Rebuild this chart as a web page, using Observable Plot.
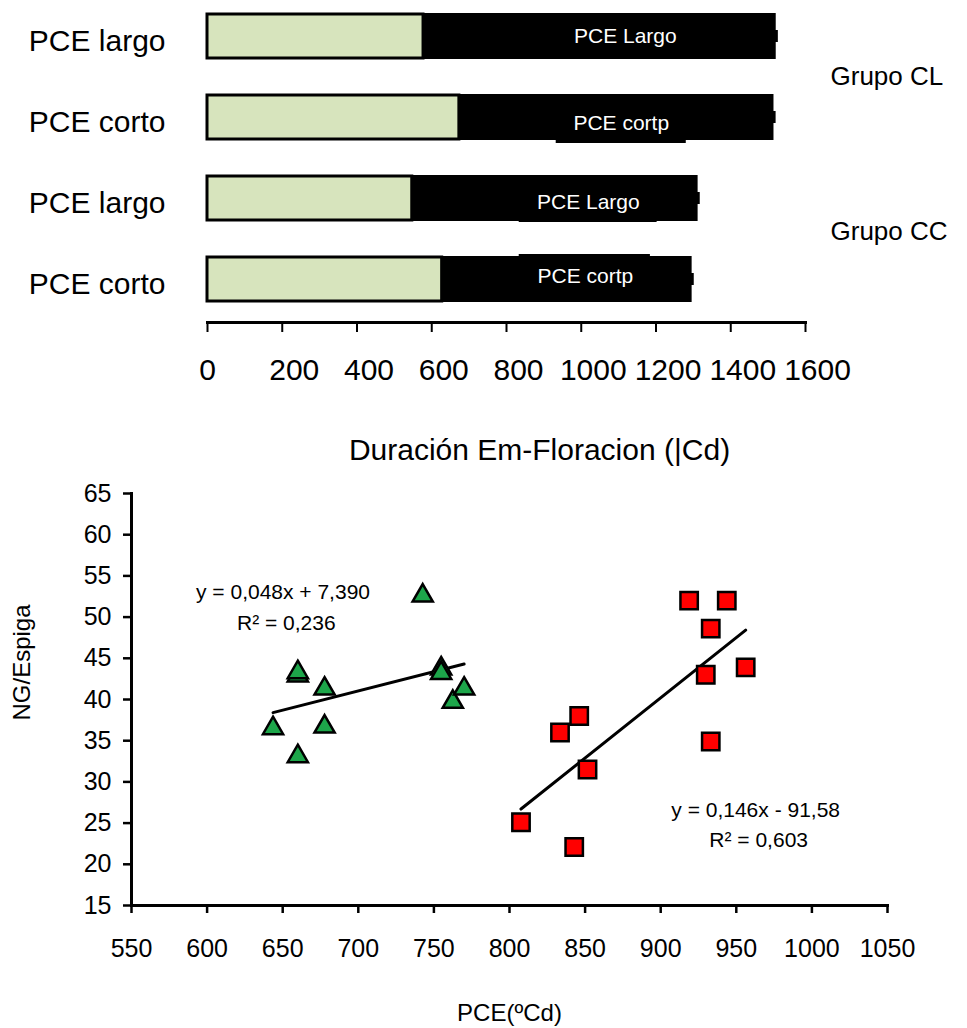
<!DOCTYPE html>
<html><head><meta charset="utf-8">
<script src="https://cdn.jsdelivr.net/npm/d3@7"></script>
<script src="https://cdn.jsdelivr.net/npm/@observablehq/plot@0.6"></script>
<style>
body{margin:0;background:#fff;font-family:"Liberation Sans",Arial,sans-serif;}
#wrap{position:relative;width:967px;height:1028px;overflow:hidden;}
#topChart{position:absolute;left:0;top:0;}
#bottomChart{position:absolute;left:0;top:480px;}
</style></head><body><div id="wrap"><div id="topChart"></div><div id="bottomChart"></div></div>
<script>
// ---- Top chart data ----
const barKeys = ["CL-largo", "CL-corto", "CC-largo", "CC-corto"];
const barLabels = ["PCE largo", "PCE corto", "PCE largo", "PCE corto"];
const greenEnd = [578, 674, 548, 628];
const totalEnd = [1519, 1513, 1310, 1294];
const greenErrEnd = [580, 676, null, null];
const totalErrEnd = [1522, 1516, 1313, 1297];
const segLabels = ["PCE Largo", "PCE cortp", "PCE Largo", "PCE cortp"];
const segLabelX = [1118, 1107, 1019, 1011];
const boxX1 = [null, 933, 834, 834];
const boxX2 = [null, 1281, 1203, 1185];
const groupLabels = ["Grupo CL", "Grupo CC"];
const groupKeys = ["CL-largo", "CC-largo"];
const durTicks = [0, 200, 400, 600, 800, 1000, 1200, 1400, 1600];
const durTitle = "Duración Em-Floracion (|Cd)";

// ---- Bottom chart data ----
const greenX = [643.6, 660, 660, 660, 677.7, 677.7, 742.6, 754.8, 754.8, 762.5, 770];
const greenY = [36.5, 33.1, 42.9, 43.3, 41.3, 36.7, 52.6, 43.75, 43.2, 39.7, 41.3];
const redX = [918.8, 943.7, 933.1, 929.8, 956.2, 933.1, 846.1, 833.4, 851.6, 807.6, 842.8];
const redY = [52.0, 52.0, 48.6, 43.0, 43.9, 34.9, 38.0, 36.0, 31.5, 25.1, 22.1];
const pceTicks = [550, 600, 650, 700, 750, 800, 850, 900, 950, 1000, 1050];
const ngTicks = [15, 20, 25, 30, 35, 40, 45, 50, 55, 60, 65];
const eqGreen = ["y = 0,048x + 7,390", "R² = 0,236"];
const eqRed = ["y = 0,146x - 91,58", "R² = 0,603"];
const pceTitle = "PCE(ºCd)";
const ngTitle = "NG/Espiga";

const bars = barKeys.map((k, i) => ({
  key: k, label: barLabels[i], green: greenEnd[i], total: totalEnd[i],
  gErr: greenErrEnd[i], tErr: totalErrEnd[i], seg: segLabels[i], segX: segLabelX[i],
  bx1: boxX1[i], bx2: boxX2[i]
}));
const font = "Liberation Sans, Arial, sans-serif";
const num = d => String(d);

const topPlot = Plot.plot({
  width: 967, height: 480,
  marginLeft: 207, marginRight: 162, marginTop: 0, marginBottom: 158,
  style: {fontFamily: font, fontSize: "30px", background: "white", color: "black"},
  x: {domain: [0, 1600]},
  y: {type: "band", domain: barKeys, range: [13, 302], paddingInner: 0.46, paddingOuter: 0},
  marks: [
    Plot.barX(bars, {y: "key", x1: 0, x2: "green", fill: "#D7E4BD", stroke: "black", strokeWidth: 3}),
    Plot.barX(bars, {y: "key", x1: "green", x2: "total", fill: "black", stroke: "black", strokeWidth: 2}),
    Plot.barX(bars.filter(d => d.key === "CL-corto"), {y: "key", x1: "bx1", x2: "bx2", fill: "black", insetTop: 10, insetBottom: -4}),
    Plot.barX(bars.filter(d => d.key === "CC-largo"), {y: "key", x1: "bx1", x2: "bx2", fill: "black", insetTop: 10, insetBottom: -2}),
    Plot.barX(bars.filter(d => d.key === "CC-corto"), {y: "key", x1: "bx1", x2: "bx2", fill: "black", insetTop: -3, insetBottom: 10}),
    Plot.tickX(bars.filter(d => d.gErr != null), {y: "key", x: "gErr", stroke: "black", strokeWidth: 3, insetTop: 16, insetBottom: 16}),
    Plot.tickX(bars, {y: "key", x: "tErr", stroke: "black", strokeWidth: 3, insetTop: 16, insetBottom: 16}),
    Plot.text(bars.filter((d, i) => i === 0), {y: "key", x: "segX", text: "seg", fill: "white", fontSize: 21, dy: 0}),
    Plot.text(bars.filter((d, i) => i === 1), {y: "key", x: "segX", text: "seg", fill: "white", fontSize: 21, dy: 6}),
    Plot.text(bars.filter((d, i) => i === 2), {y: "key", x: "segX", text: "seg", fill: "white", fontSize: 21, dy: 4}),
    Plot.text(bars.filter((d, i) => i === 3), {y: "key", x: "segX", text: "seg", fill: "white", fontSize: 21, dy: -3}),
    Plot.axisY({tickSize: 0, tickPadding: 42, tickFormat: k => barLabels[barKeys.indexOf(k)], fontSize: 30, dy: 5, label: null}),
    Plot.frame({anchor: "bottom", strokeWidth: 3}),
    Plot.axisX({ticks: durTicks, tickSize: 10, strokeWidth: 2, tickFormat: () => "", label: null}),
    Plot.text(durTicks.slice(0, 1), {x: d => d, text: num, frameAnchor: "bottom", dy: 48, lineAnchor: "middle", fontSize: 30}),
    Plot.text(durTicks.slice(1), {x: d => d, text: num, frameAnchor: "bottom", dy: 48, dx: 12, lineAnchor: "middle", fontSize: 30}),
    Plot.text([durTitle], {frameAnchor: "bottom", dy: 128, dx: 33, lineAnchor: "middle", textAnchor: "middle", fontSize: 30}),
    Plot.text(groupLabels.slice(0, 1), {y: (d, i) => groupKeys[0], frameAnchor: "right", dx: 25, dy: 40, textAnchor: "start", fontSize: 26}),
    Plot.text(groupLabels.slice(1), {y: (d, i) => groupKeys[1], frameAnchor: "right", dx: 25, dy: 33, textAnchor: "start", fontSize: 26})
  ]
});
document.getElementById("topChart").appendChild(topPlot);

const green = greenX.map((x, i) => ({x, y: greenY[i]}));
const red = redX.map((x, i) => ({x, y: redY[i]}));

const bottomPlot = Plot.plot({
  width: 967, height: 548,
  marginLeft: 131, marginRight: 80, marginTop: 13, marginBottom: 123,
  style: {fontFamily: font, fontSize: "25px", background: "white", color: "black"},
  x: {domain: [550, 1050]},
  y: {domain: [15, 65]},
  marks: [
    Plot.axisY({ticks: ngTicks, tickSize: 8, tickPadding: 12, strokeWidth: 2.5, fontSize: 25, label: null}),
    Plot.axisX({ticks: pceTicks, tickSize: 8, strokeWidth: 2.5, tickFormat: () => "", label: null}),
    Plot.text(pceTicks, {x: d => d, text: num, frameAnchor: "bottom", dy: 43, lineAnchor: "middle", fontSize: 25}),
    Plot.frame({anchor: "left", strokeWidth: 3}),
    Plot.frame({anchor: "bottom", strokeWidth: 3}),
    Plot.linearRegressionY(green, {x: "x", y: "y", ci: 0, stroke: "black", strokeWidth: 3}),
    Plot.linearRegressionY(red, {x: "x", y: "y", ci: 0, stroke: "black", strokeWidth: 3}),
    Plot.dot(green, {x: "x", y: "y", symbol: "triangle", r: 7.5, fill: "#1DA64A", stroke: "black", strokeWidth: 2.5}),
    Plot.dot(red, {x: "x", y: "y", symbol: "square", r: 9.8, fill: "#FF0000", stroke: "black", strokeWidth: 2.5}),
    Plot.text(eqGreen.slice(0, 1), {x: 650.2, y: 53.0, fontSize: 21}),
    Plot.text(eqGreen.slice(1), {x: 652.4, y: 49.3, fontSize: 21}),
    Plot.text(eqRed.slice(0, 1), {x: 962.8, y: 26.6, fontSize: 21}),
    Plot.text(eqRed.slice(1), {x: 964.8, y: 22.9, fontSize: 21}),
    Plot.text([pceTitle], {frameAnchor: "bottom", dy: 108, lineAnchor: "middle", textAnchor: "middle", fontSize: 24}),
    Plot.text([ngTitle], {frameAnchor: "left", dx: -109, dy: -37, rotate: -90, textAnchor: "middle", fontSize: 24})
  ]
});
document.getElementById("bottomChart").appendChild(bottomPlot);
</script></body></html>
